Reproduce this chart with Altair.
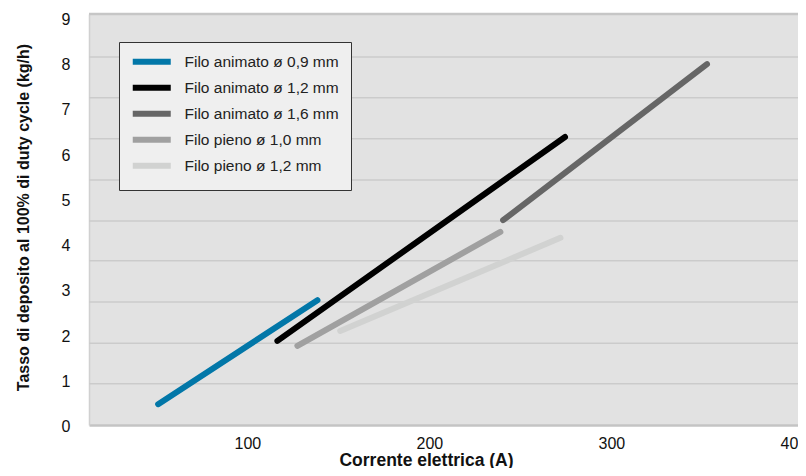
import altair as alt
import pandas as pd

series = ["Filo animato ø 0,9 mm", "Filo animato ø 1,2 mm", "Filo animato ø 1,6 mm",
          "Filo pieno ø 1,0 mm", "Filo pieno ø 1,2 mm"]
colors = ["#0277a8", "#000000", "#666666", "#a0a0a0", "#d1d2d1"]
current_start = [51, 116.5, 240.5, 127.5, 151]
current_end = [138.5, 274.5, 352.5, 239, 272]
rate_start = [0.46, 1.86, 4.53, 1.75, 2.08]
rate_end = [2.76, 6.37, 7.98, 4.27, 4.14]
grid_values = [0.91, 1.81, 2.72, 3.63, 4.51, 5.42, 6.33, 7.24, 8.14]
top_border = [9.09]
x_ticks = [100, 200, 300, 400]
y_ticks = [0, 1, 2, 3, 4, 5, 6, 7, 8, 9]

rows = []
for i, s in enumerate(series):
    rows.append({"series": s, "current": current_start[i], "rate": rate_start[i], "k": 0})
    rows.append({"series": s, "current": current_end[i], "rate": rate_end[i], "k": 1})
df = pd.DataFrame(rows)

FONT = "Liberation Sans"

yscale = alt.Scale(domain=[0, 9.09], nice=False, zero=False)
xscale = alt.Scale(domain=[13, 402.5], nice=False, zero=False)

grid = alt.Chart(pd.DataFrame({"rate": grid_values})).mark_rule(
    color="#cbcbcb", strokeWidth=1.5
).encode(y=alt.Y("rate:Q", scale=yscale))

topline = alt.Chart(pd.DataFrame({"rate": top_border})).mark_rule(
    color="#c6c6c6", strokeWidth=2.5
).encode(y=alt.Y("rate:Q", scale=yscale))

lines = alt.Chart(df).mark_line(strokeWidth=6, strokeCap="round").encode(
    x=alt.X("current:Q", scale=xscale,
            axis=alt.Axis(values=x_ticks, grid=False, ticks=False, domain=True,
                          domainColor="#c4c4c4", domainWidth=2.5,
                          labelFont=FONT, labelFontSize=16, labelColor="#111111",
                          labelPadding=10, labelFlush=False,
                          title="Corrente elettrica (A)", titleFont=FONT,
                          titleFontSize=17.5, titleFontWeight="bold", titleColor="#111111",
                          titleX=337, titleY=40, titleBaseline="alphabetic", titleAlign="center")),
    y=alt.Y("rate:Q", scale=yscale,
            axis=alt.Axis(values=y_ticks, grid=False, ticks=False, domain=True,
                          domainColor="#d0d0d0", domainWidth=1.5,
                          labelFont=FONT, labelFontSize=16, labelColor="#111111",
                          labelPadding=19, labelOffset=1.5, labelFlush=False,
                          title="Tasso di deposito al 100% di duty cycle (kg/h)",
                          titleFont=FONT, titleFontSize=16, titleFontWeight="bold",
                          titleColor="#111111", titleX=-66, titleY=203,
                          titleBaseline="middle", titleAlign="center", titleAngle=270)),
    color=alt.Color("series:N", scale=alt.Scale(domain=series, range=colors),
                    legend=alt.Legend(orient="none", legendX=30, legendY=28, title=None,
                                      symbolType="M-3,0L16,0", symbolSize=16,
                                      symbolStrokeWidth=6, labelFont=FONT,
                                      labelFontSize=15.5, labelColor="#222222",
                                      labelOffset=38, padding=12, rowPadding=1,
                                      fillColor="#efefef", strokeColor="#333333")),
    detail="series:N",
    order="k:Q",
)

chart = alt.layer(grid, topline, lines).properties(
    width=709, height=411,
    autosize=alt.AutoSizeParams(type="none"),
    padding={"left": 81, "top": 6, "right": 0, "bottom": 43},
    background="white",
).configure_view(fill="#e2e2e2", stroke="transparent")

chart.save("out.html", embed_options={"renderer": "svg", "actions": False})
